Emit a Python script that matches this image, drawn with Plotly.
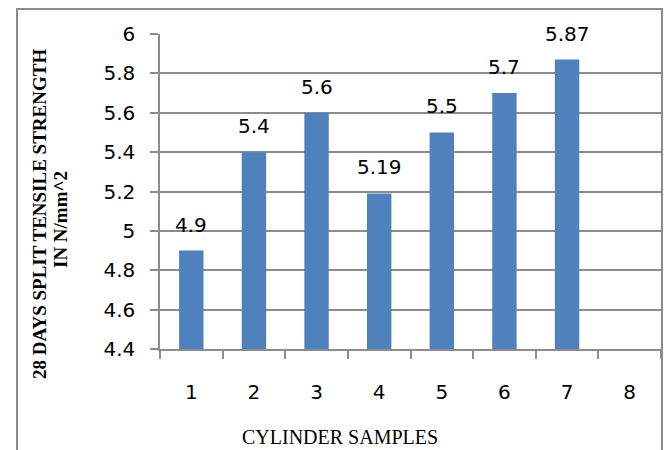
import plotly.graph_objects as go

categories = ["1", "2", "3", "4", "5", "6", "7", "8"]
values = [4.9, 5.4, 5.6, 5.19, 5.5, 5.7, 5.87, None]
labels = ["4.9", "5.4", "5.6", "5.19", "5.5", "5.7", "5.87", ""]
y_ticks = [4.4, 4.6, 4.8, 5.0, 5.2, 5.4, 5.6, 5.8, 6.0]
y_tick_text = ["4.4", "4.6", "4.8", "5", "5.2", "5.4", "5.6", "5.8", "6"]

W, H = 667, 450
L, R, T, B = 160, 6, 34, 101
pw, ph = W - L - R, H - T - B

fig = go.Figure()
fig.add_trace(go.Bar(
    x=categories, y=values, marker_color="#4F81BD",
    marker_line_width=0, width=0.39, hoverinfo="skip",
))

for i, (v, t) in enumerate(zip(values, labels)):
    if v is None:
        continue
    fig.add_annotation(x=i, y=v, text=t, showarrow=False, yanchor="middle",
                       yshift=26, font=dict(family="DejaVu Sans", size=20, color="#000"))

def px_x(x):
    return (x - L) / pw

def px_y(y):
    return (H - B - y) / ph

# Axis titles
fig.add_annotation(xref="paper", yref="paper", x=px_x(39), y=px_y(214),
                   text="<b>28 DAYS SPLIT TENSILE STRENGTH</b>",
                   textangle=-90, showarrow=False, xanchor="center", yanchor="middle",
                   font=dict(family="Liberation Serif", size=19, color="#000"))
fig.add_annotation(xref="paper", yref="paper", x=px_x(60), y=px_y(220),
                   text="<b>IN N/mm^2</b>",
                   textangle=-90, showarrow=False, xanchor="center", yanchor="middle",
                   font=dict(family="Liberation Serif", size=19, color="#000"))
fig.add_annotation(xref="paper", yref="paper", x=px_x(340), y=px_y(437),
                   text="CYLINDER SAMPLES", showarrow=False,
                   xanchor="center", yanchor="middle",
                   font=dict(family="Liberation Serif", size=20, color="#000"))

# Outer chart border
fig.add_shape(type="rect", xref="paper", yref="paper",
              x0=px_x(17), x1=px_x(662), y0=px_y(470), y1=px_y(9),
              line=dict(color="#8C8C8C", width=2), fillcolor="rgba(0,0,0,0)", layer="above")

fig.update_layout(
    width=W, height=H,
    margin=dict(l=L, r=R, t=T, b=B, pad=0),
    paper_bgcolor="white", plot_bgcolor="white",
    showlegend=False,
    xaxis=dict(
        type="category", range=[-0.5, 7.5],
        showline=True, linecolor="#8C8C8C", linewidth=1.5,
        ticks="outside", tickson="boundaries", ticklen=8, tickcolor="#8C8C8C", tickwidth=1.5,
        showgrid=False,
        tickfont=dict(family="DejaVu Sans", size=20, color="#000"),
        ticklabelstandoff=24,
    ),
    yaxis=dict(
        range=[4.4, 6.0], tickvals=y_ticks, ticktext=y_tick_text,
        showline=True, linecolor="#8C8C8C", linewidth=1.5,
        ticks="outside", ticklen=8, tickcolor="#8C8C8C", tickwidth=1.5,
        showgrid=True, gridcolor="#8C8C8C", gridwidth=1.5,
        zeroline=False,
        tickfont=dict(family="DejaVu Sans", size=20, color="#000"),
        ticklabelstandoff=11,
    ),
)

fig.write_html("out.html", config={"displayModeBar": False},
               post_script="document.body.style.margin='0';")
